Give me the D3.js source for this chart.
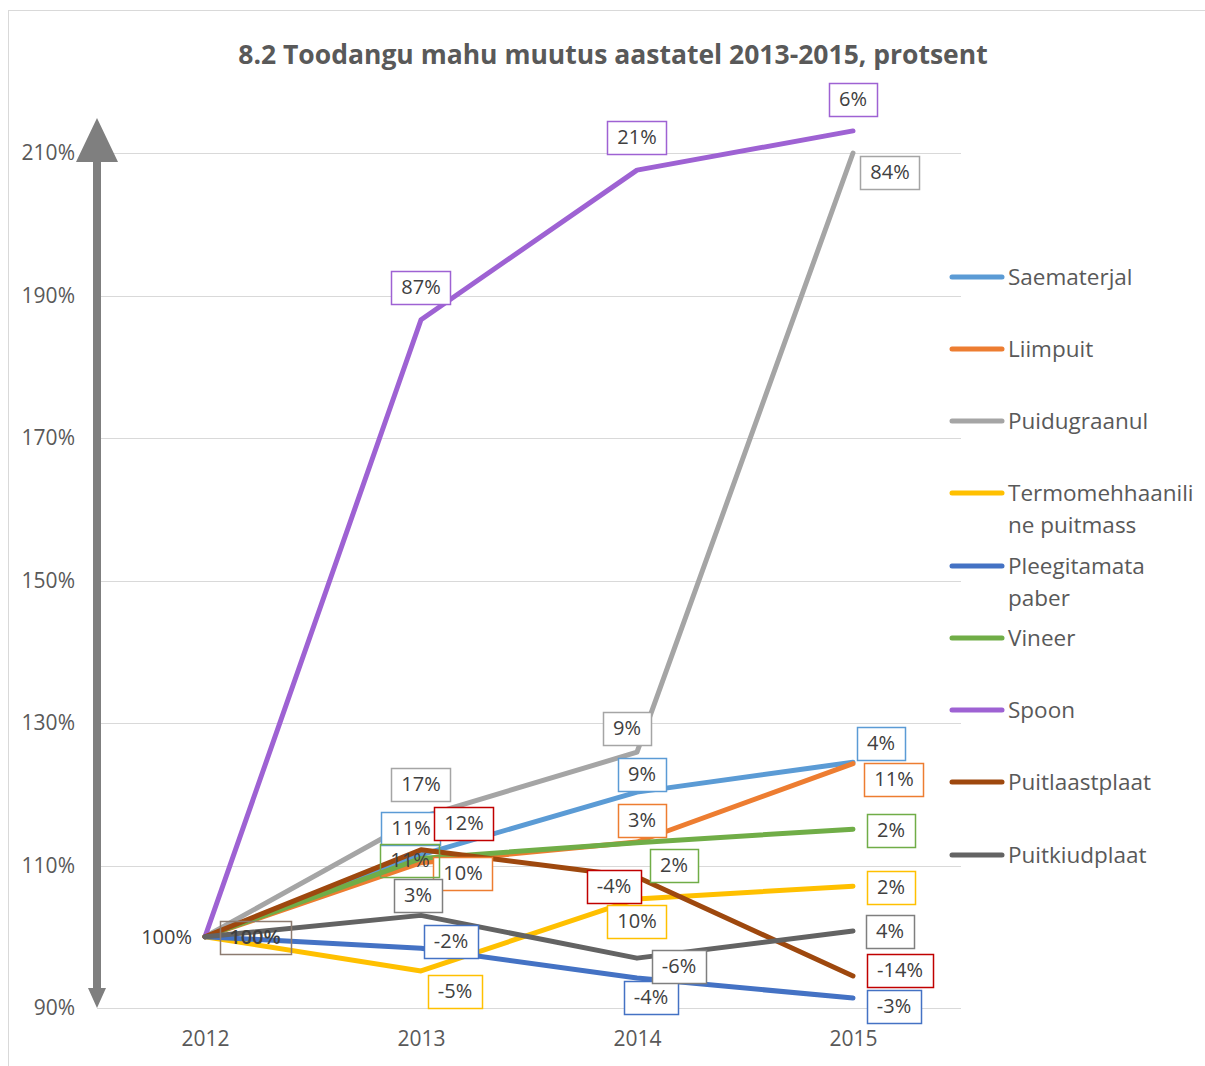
<!DOCTYPE html>
<html lang="et">
<head>
  <meta charset="UTF-8" />
  <title>8.2 Toodangu mahu muutus aastatel 2013-2015, protsent</title>
  <script src="https://d3js.org/d3.v7.min.js"></script>
  <style>
    body {
      margin: 0;
      padding: 0;
      background: #fff;
      font-family: "Open Sans", sans-serif;
    }
    .grid {
      stroke: #d9d9d9;
      stroke-width: 1;
    }
    .axis text {
      fill: #595959;
      font-family: "Open Sans", sans-serif;
      font-size: 21px;
    }
    .line {
      fill: none;
      stroke-width: 5;
      stroke-linejoin: round;
      stroke-linecap: round;
    }
    .lbl text {
      fill: #404040;
      font-size: 20px;
    }
    .legend text {
      fill: #595959;
      font-size: 22.5px;
    }
  </style>
</head>
<body>
  <svg width="1205" height="1066"></svg>

  <script>
    // andmed (2012 = 100%)
    const aastad = ["2012", "2013", "2014", "2015"];
    const nimed = ["Saematerjal", "Liimpuit", "Puidugraanul", "Termomehhaaniline puitmass",
      "Pleegitamata paber", "Vineer", "Spoon", "Puitlaastplaat", "Puitkiudplaat"];

    const saematerjal = [100, 111.5, 120.3, 124.5];
    const liimpuit = [100, 110.4, 113.3, 124.3];
    const puidugraanul = [100, 116.8, 125.9, 210];
    const termomehh = [100, 95.2, 105.3, 107.1];
    const pleegitamata = [100, 98.4, 94.2, 91.4];
    const vineer = [100, 111, 113.2, 115.1];
    const spoon = [100, 186.6, 207.6, 213.1];
    const puitlaast = [100, 112.2, 108.4, 94.5];
    const puitkiud = [100, 103, 97, 100.8];

    // muutus eelmise aastaga (2013..2015)
    const muutSaem = ["11%", "9%", "4%"];
    const muutLiim = ["10%", "3%", "11%"];
    const muutGraan = ["17%", "9%", "84%"];
    const muutTermo = ["-5%", "10%", "2%"];
    const muutPleeg = ["-2%", "-4%", "-3%"];
    const muutVineer = ["11%", "2%", "2%"];
    const muutSpoon = ["87%", "21%", "6%"];
    const muutLaast = ["12%", "-4%", "-14%"];
    const muutKiud = ["3%", "-6%", "4%"];

    const yTicks = [90, 110, 130, 150, 170, 190, 210];

    const vaartused = [saematerjal, liimpuit, puidugraanul, termomehh, pleegitamata, vineer, spoon, puitlaast, puitkiud];
    const muutused = [muutSaem, muutLiim, muutGraan, muutTermo, muutPleeg, muutVineer, muutSpoon, muutLaast, muutKiud];

    // välimus
    const varvid = ["#5B9BD5", "#ED7D31", "#A5A5A5", "#FFC000", "#4472C4", "#70AD47", "#9E62D3", "#9E480E", "#636363"];
    const kastiVarvid = ["#5B9BD5", "#ED7D31", "#A5A5A5", "#FFC000", "#4472C4", "#70AD47", "#9E62D3", "#C00000", "#7F7F7F"];
    // sildi nihked punkti suhtes [dx, dy] aastatele 2013..2015
    const nihked = [
      [[-10, -27], [5, -18], [28, -19]],
      [[42, 10], [5, -22], [41, 15]],
      [[0, -33], [-10, -24], [37, 19]],
      [[34, 20], [0, 22], [38, 1]],
      [[30, -7], [14, 19], [41, 8]],
      [[-11, 2], [37, 22], [38, 1]],
      [[0, -33], [0, -33], [0, -32]],
      [[43, -27], [-23, 9], [47, -6]],
      [[-3, -20], [42, 8], [37, 0]]
    ];
    const legendiRead = {
      "Termomehhaaniline puitmass": ["Termomehhaanili", "ne puitmass"],
      "Pleegitamata paber": ["Pleegitamata", "paber"]
    };

    const svg = d3.select("svg");

    // raam
    svg.append("rect")
      .attr("x", 8.5).attr("y", 10.5)
      .attr("width", 1300).attr("height", 1200)
      .attr("fill", "none").attr("stroke", "#d9d9d9");

    svg.append("text")
      .attr("x", 613).attr("y", 64)
      .attr("text-anchor", "middle")
      .attr("font-size", 26.5).attr("font-weight", "bold")
      .attr("fill", "#595959")
      .text("8.2 Toodangu mahu muutus aastatel 2013-2015, protsent");

    const x = d3.scalePoint().domain(aastad).range([205, 853]);
    const y = d3.scaleLinear().domain([90, 210]).range([1008, 153]);

    // ruudustik
    svg.selectAll(".grid")
      .data(yTicks)
      .enter()
      .append("line")
      .attr("class", "grid")
      .attr("x1", 97).attr("x2", 961)
      .attr("y1", (d) => Math.round(y(d)) + 0.5)
      .attr("y2", (d) => Math.round(y(d)) + 0.5);

    const yAxis = svg.append("g")
      .attr("class", "axis")
      .attr("transform", "translate(97,0)")
      .call(d3.axisLeft(y).tickValues(yTicks).tickSize(0).tickPadding(22).tickFormat((d) => d + "%"));
    yAxis.select(".domain").remove();

    const xAxis = svg.append("g")
      .attr("class", "axis")
      .attr("transform", "translate(0,1008)")
      .call(d3.axisBottom(x).tickSize(0).tickPadding(23));
    xAxis.select(".domain").remove();

    // nool
    svg.append("path")
      .attr("d", "M97,118 L118,162 L101,162 L101,988 L106,988 L97,1008 L88,988 L93,988 L93,162 L76,162 Z")
      .attr("fill", "#7F7F7F");

    // jooned
    const line = d3.line().x((d, i) => x(aastad[i])).y((d) => y(d));

    svg.selectAll(".line")
      .data(vaartused)
      .enter()
      .append("path")
      .attr("class", "line")
      .attr("stroke", (d, i) => varvid[i])
      .attr("d", line);

    // 2012 sildid
    svg.append("text")
      .attr("x", 192).attr("y", y(100) + 7)
      .attr("text-anchor", "end")
      .attr("fill", "#404040").attr("font-size", 20)
      .text("100%");

    const silt = (g, tx, ty, tekst, varv, taidis) => {
      const grp = g.append("g").attr("class", "lbl");
      const t = grp.append("text")
        .attr("x", tx).attr("y", ty + 7)
        .attr("text-anchor", "middle")
        .text(tekst);
      const bb = t.node().getBBox();
      grp.insert("rect", "text")
        .attr("x", Math.round(bb.x - 10) + 0.5)
        .attr("y", Math.round(ty - 16) + 0.5)
        .attr("width", Math.round(bb.width + 20))
        .attr("height", 33)
        .attr("fill", taidis)
        .attr("stroke", varv)
        .attr("stroke-width", 1.5);
      return t;
    };

    const sildid = svg.append("g");
    // 2012 sildid kattuvad üksteisega
    silt(sildid, 255, y(100), "100%", "#8C7B70", "none").attr("font-weight", 600);

    vaartused.forEach((v, i) => {
      muutused[i].forEach((m, j) => {
        const [dx, dy] = nihked[i][j];
        const taidis = (i === 5 && j === 0) ? "none" : "#fff";
        silt(sildid, x(aastad[j + 1]) + dx, y(v[j + 1]) + dy, m, kastiVarvid[i], taidis);
      });
    });

    // legend
    const legendY = [277, 349, 421, 493, 566, 638, 710, 782, 855];
    const legend = svg.append("g").attr("class", "legend");
    nimed.forEach((n, i) => {
      legend.append("line")
        .attr("x1", 952).attr("x2", 1002)
        .attr("y1", legendY[i]).attr("y2", legendY[i])
        .attr("stroke", varvid[i])
        .attr("stroke-width", 5)
        .attr("stroke-linecap", "round");
      const read = legendiRead[n] || [n];
      read.forEach((r, k) => {
        legend.append("text")
          .attr("x", 1008)
          .attr("y", legendY[i] + 8 + k * 32)
          .text(r);
      });
    });
  </script>
</body>
</html>
